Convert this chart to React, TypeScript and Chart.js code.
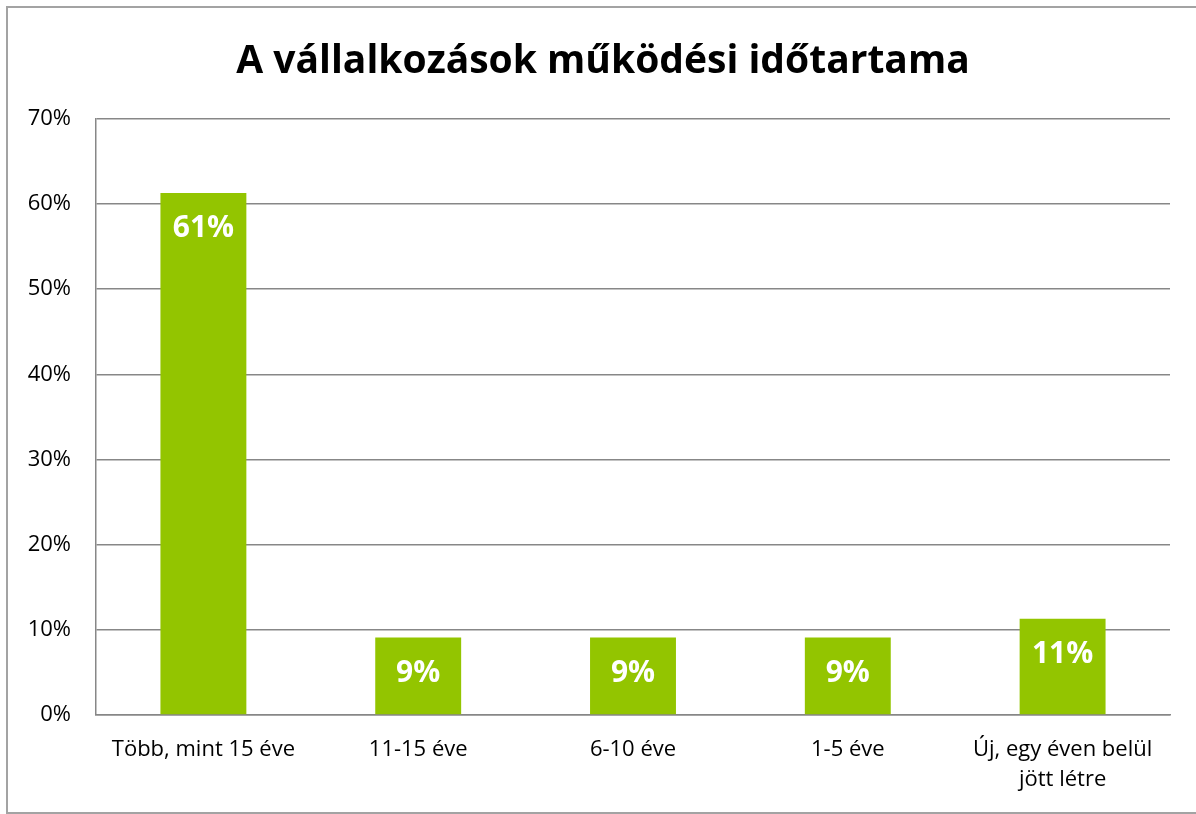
import React, { useEffect, useRef } from "react";
import { Chart, registerables } from "chart.js";

Chart.register(...registerables);

const title = "A vállalkozások működési időtartama";
const categories: (string | string[])[] = [
  "Több, mint 15 éve",
  "11-15 éve",
  "6-10 éve",
  "1-5 éve",
  ["Új, egy éven belül", "jött létre"],
];
const shares = [0.613, 0.091, 0.091, 0.091, 0.113];
const yMin = 0;
const yMax = 0.7;
const yStep = 0.1;

const FONT = "'Open Sans', 'DejaVu Sans', sans-serif";
const GREEN = "#93c500";
const GRID = "#878787";

const valueLabels = {
  id: "valueLabels",
  afterDatasetsDraw(chart: any) {
    const ctx = chart.ctx;
    const meta = chart.getDatasetMeta(0);
    ctx.save();
    ctx.fillStyle = "#ffffff";
    ctx.font = `bold 30px ${FONT}`;
    ctx.textAlign = "center";
    ctx.textBaseline = "middle";
    meta.data.forEach((bar: any, i: number) => {
      const v = chart.data.datasets[0].data[i] as number;
      ctx.fillText(Math.round(v * 100) + "%", bar.x, bar.y + 36);
    });
    ctx.restore();
  },
};

export default function App() {
  const ref = useRef<HTMLCanvasElement | null>(null);
  useEffect(() => {
    document.body.style.margin = "0";
    if (!ref.current) return;
    const chart = new Chart(ref.current, {
      type: "bar",
      data: {
        labels: categories,
        datasets: [
          {
            data: shares,
            backgroundColor: GREEN,
            borderWidth: 0,
            barPercentage: 0.4,
            categoryPercentage: 1,
          },
        ],
      },
      options: {
        animation: false,
        responsive: false,
        devicePixelRatio: 1,
        layout: { padding: { left: 10, right: 0, top: 0, bottom: 0 } },
        plugins: {
          legend: { display: false },
          tooltip: { enabled: false },
          title: {
            display: true,
            text: title,
            color: "#000000",
            font: { family: FONT, size: 39, weight: "bold" },
            padding: { top: 38, bottom: 34 },
          },
        },
        scales: {
          x: {
            grid: { display: false, drawTicks: false },
            border: { display: true, color: GRID, width: 1.5 },
            ticks: {
              color: "#000000",
              font: { family: FONT, size: 22, lineHeight: 1.4 },
              padding: 19,
              maxRotation: 0,
              autoSkip: false,
            },
            afterFit: (s: any) => {
              s.height = 99;
            },
          },
          y: {
            min: yMin,
            max: yMax,
            grid: { color: GRID, lineWidth: 1.5, drawTicks: false },
            border: { display: true, color: GRID, width: 1.5 },
            ticks: {
              stepSize: yStep,
              color: "#000000",
              font: { family: FONT, size: 22 },
              padding: 25,
              callback: (v: any) => Math.round(Number(v) * 100) + "%",
            },
            afterFit: (s: any) => {
              s.width = 86;
            },
          },
          yRight: {
            position: "right",
            display: true,
            min: yMin,
            max: yMax,
            grid: { display: false, drawTicks: false },
            border: { display: false },
            ticks: { display: false },
            afterFit: (s: any) => {
              s.width = 26;
            },
          },
        },
      },
      plugins: [valueLabels],
    });
    return () => chart.destroy();
  }, []);
  return (
    <div style={{ position: "relative", width: 1196, height: 814, overflow: "hidden", background: "#fff" }}>
      <div
        style={{
          position: "absolute",
          left: 6,
          top: 6,
          width: 1220,
          height: 808,
          boxSizing: "border-box",
          border: "2px solid #a3a3a3",
        }}
      />
      <canvas ref={ref} width={1196} height={814} style={{ position: "absolute", left: 0, top: 0 }} />
    </div>
  );
}
